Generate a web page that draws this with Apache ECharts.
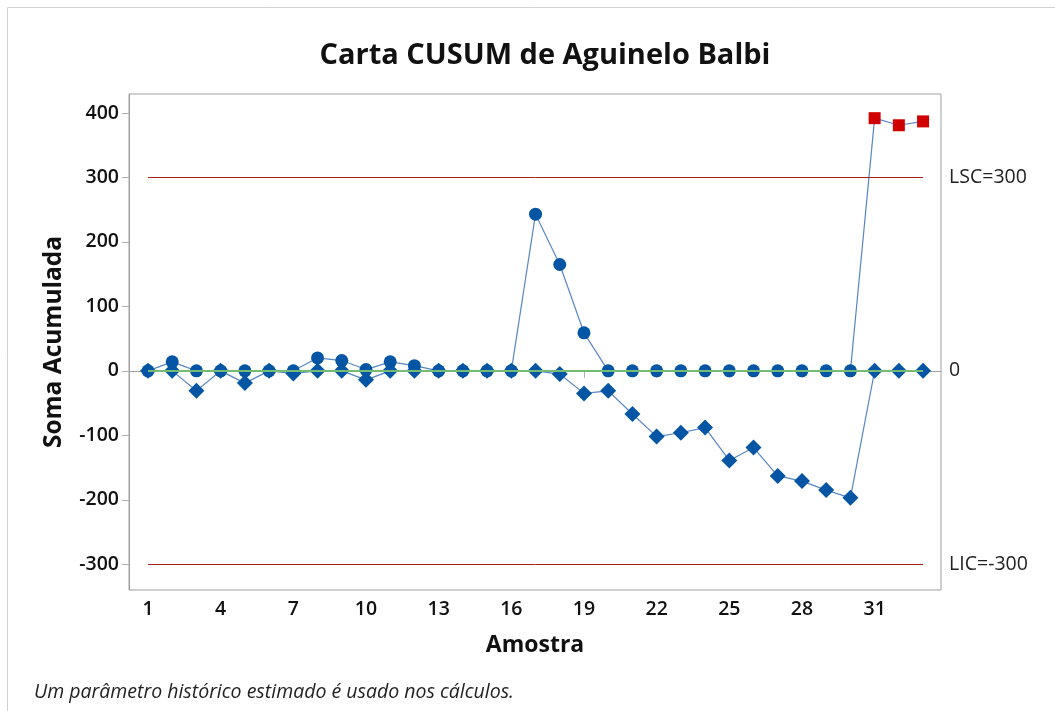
<!DOCTYPE html>
<html>
<head>
<meta charset="utf-8">
<title>Carta CUSUM</title>
<script src="https://cdn.jsdelivr.net/npm/echarts@6/dist/echarts.min.js"></script>
<style>
  html, body { margin: 0; padding: 0; background: #fff; }
  #chart { width: 1055px; height: 711px; }
</style>
</head>
<body>
<div id="chart"></div>
<script>
// amostras 1..33
var amostras = [1, 2, 3, 4, 5, 6, 7, 8, 9, 10, 11, 12, 13, 14, 15, 16, 17,
  18, 19, 20, 21, 22, 23, 24, 25, 26, 27, 28, 29, 30, 31, 32, 33];
// CUSUM superior (circulos), pontos fora de controle em vermelho
var cusumSup = [0, 14, 0, 0, 0, 0, 0, 20, 16, 2, 14, 8, 0, 0, 0, 0, 243,
  165, 59, 0, 0, 0, 0, 0, 0, 0, 0, 0, 0, 0, 392, 381, 387];
// CUSUM inferior (losangos)
var cusumInf = [0, 0, -31, 0, -19, 0, -4, 0, 0, -14, 0, 0, 0, 0, 0, 0, 0,
  -5, -35, -31, -67, -102, -96, -88, -139, -119, -163, -171, -185, -197, 0, 0, 0];
var LSC = 300, LIC = -300, centro = 0;
var ticksX = [1, 4, 7, 10, 13, 16, 19, 22, 25, 28, 31];
var ticksY = [-300, -200, -100, 0, 100, 200, 300, 400];

var chart = echarts.init(document.getElementById('chart'));

var azul = '#0455a4';
var vermelho = '#d10000';
var fonte = '"Open Sans", "Noto Sans", sans-serif';

// pontos acima do LSC ficam como quadrados vermelhos
var dadosSup = amostras.map(function (a, i) {
  var v = cusumSup[i];
  if (v > LSC) {
    return { value: [a, v], symbol: 'rect', symbolSize: 12, itemStyle: { color: vermelho } };
  }
  return [a, v];
});
var dadosInf = amostras.map(function (a, i) { return [a, cusumInf[i]]; });
var primeiro = amostras[0], ultimo = amostras[amostras.length - 1];

var option = {
  animation: false,
  textStyle: { fontFamily: fonte },
  title: [
    {
      text: 'Carta CUSUM de Aguinelo Balbi',
      left: 540, top: 36, textAlign: 'center',
      textStyle: { fontSize: 29, fontWeight: 'bold', color: '#111', fontFamily: fonte }
    },
    {
      text: 'Um parâmetro histórico estimado é usado nos cálculos.',
      left: 29, top: 677,
      textStyle: { fontSize: 19.5, fontWeight: 'normal', fontStyle: 'italic', color: '#222', fontFamily: fonte }
    }
  ],
  graphic: [{
    type: 'rect', silent: true,
    shape: { x: 7.5, y: 7.5, width: 1100, height: 800 },
    style: { fill: 'none', stroke: '#d2d2d2', lineWidth: 1 }
  }],
  grid: {
    left: 129, top: 94, right: 114, bottom: 121,
    show: true, borderColor: '#a0a0a0', borderWidth: 1
  },
  xAxis: {
    type: 'value', min: 0.216, max: 33.74,
    name: 'Amostra', nameLocation: 'middle', nameGap: 44,
    nameTextStyle: { fontSize: 23, fontWeight: 'bold', color: '#111', fontFamily: fonte },
    axisLine: { show: true, lineStyle: { color: '#a0a0a0' } },
    axisTick: { show: true, length: 7, customValues: ticksX, lineStyle: { color: '#b0b0b0' } },
    axisLabel: { customValues: ticksX, fontSize: 19.5, fontWeight: 600, color: '#111', margin: 9 },
    splitLine: { show: false }
  },
  yAxis: {
    type: 'value', min: -340, max: 429.5,
    name: 'Soma Acumulada', nameLocation: 'middle', nameGap: 62,
    nameTextStyle: { fontSize: 24.5, fontWeight: 'bold', color: '#111', fontFamily: fonte },
    axisLine: { show: true, lineStyle: { color: '#a0a0a0' } },
    axisTick: { show: true, length: 7, customValues: ticksY, lineStyle: { color: '#b0b0b0' } },
    axisLabel: { customValues: ticksY, fontSize: 19.5, fontWeight: 600, color: '#111', margin: 10 },
    splitLine: { show: false }
  },
  series: [
    {
      // linhas de controle
      type: 'line', data: [], silent: true, z: 1,
      markLine: {
        silent: true, symbol: 'none', animation: false,
        label: { show: true, position: 'end', distance: 26, fontSize: 19.5, color: '#222', fontFamily: fonte,
          formatter: function (p) { return p.name; } },
        data: [
          [{ name: 'LSC=' + LSC, coord: [primeiro, LSC], lineStyle: { color: '#a52020', width: 1, type: 'solid' } },
            { coord: [ultimo, LSC] }],
          [{ name: String(centro), coord: [primeiro, centro], lineStyle: { color: '#74bb74', width: 2, type: 'solid' } },
            { coord: [ultimo, centro] }],
          [{ name: 'LIC=' + LIC, coord: [primeiro, LIC], lineStyle: { color: '#a52020', width: 1, type: 'solid' } },
            { coord: [ultimo, LIC] }]
        ]
      }
    },
    {
      name: 'Superior', type: 'line', data: dadosSup, z: 3,
      symbol: 'circle', symbolSize: 13, showAllSymbol: true,
      lineStyle: { color: '#1f5fb0', width: 1.2, opacity: 0.75 },
      itemStyle: { color: azul }
    },
    {
      name: 'Inferior', type: 'line', data: dadosInf, z: 4,
      symbol: 'diamond', symbolSize: 16, showAllSymbol: true,
      lineStyle: { color: '#1f5fb0', width: 1.2, opacity: 0.75 },
      itemStyle: { color: azul }
    }
  ]
};

chart.setOption(option);
</script>
</body>
</html>
